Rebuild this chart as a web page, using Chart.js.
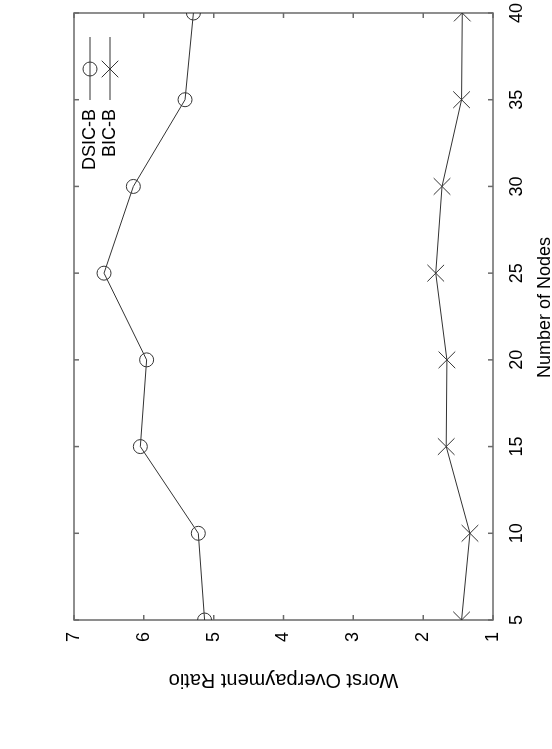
<!DOCTYPE html>
<html>
<head>
<meta charset="utf-8">
<script src="https://cdn.jsdelivr.net/npm/chart.js@4"></script>
<style>
  html, body { margin: 0; padding: 0; overflow: hidden; background: #fff; width: 552px; height: 749px; }
  /* the gnuplot page is drawn landscape, then turned a quarter turn counter-clockwise */
  #wrap { position: absolute; left: 0; top: 0; width: 749px; height: 560px; transform-origin: 0 0; transform: translateY(749px) rotate(-90deg); }
</style>
</head>
<body>
<div id="wrap"><canvas id="chart" width="749" height="560"></canvas></div>
<script>
const nodes = [5, 10, 15, 20, 25, 30, 35, 40]
const dsicB = [5.13, 5.22, 6.05, 5.96, 6.57, 6.15, 5.41, 5.29]
const bicB = [1.45, 1.33, 1.67, 1.66, 1.82, 1.73, 1.45, 1.44]
const xTicks = [5, 10, 15, 20, 25, 30, 35, 40]
const yTicks = [1, 2, 3, 4, 5, 6, 7]

const FAMILY = '"Liberation Sans", Arial, Helvetica, sans-serif'
const FONT = { family: FAMILY, size: 18 }
const INK = '#333'

function toPoints (ys) {
  return nodes.map((n, i) => ({ x: n, y: ys[i] }))
}

// gnuplot style border with inward ticks on all four sides
const borderPlugin = {
  id: 'gnuplotBorder',
  beforeDatasetsDraw (chart) {
    const { ctx, chartArea: a, scales: { x, y } } = chart
    ctx.save()
    ctx.strokeStyle = '#6a6a6a'
    ctx.lineWidth = 1.5
    ctx.strokeRect(a.left, a.top, a.right - a.left, a.bottom - a.top)
    ctx.beginPath()
    xTicks.forEach(v => {
      const px = x.getPixelForValue(v)
      ctx.moveTo(px, a.bottom); ctx.lineTo(px, a.bottom - 5)
      ctx.moveTo(px, a.top); ctx.lineTo(px, a.top + 5)
    })
    yTicks.forEach(v => {
      const py = y.getPixelForValue(v)
      ctx.moveTo(a.left, py); ctx.lineTo(a.left + 5, py)
      ctx.moveTo(a.right, py); ctx.lineTo(a.right - 5, py)
    })
    ctx.stroke()
    ctx.restore()
  },
  afterDraw (chart) {
    const { ctx, chartArea: a } = chart
    const rows = [
      { label: 'DSIC-B', style: 'circle', y: 90 },
      { label: 'BIC-B', style: 'cross', y: 110 }
    ]
    ctx.save()
    ctx.font = `${FONT.size}px ${FONT.family}`
    ctx.fillStyle = '#000'
    // x axis title, gnuplot puts it a little right of the plot centre
    ctx.textAlign = 'center'
    ctx.textBaseline = 'alphabetic'
    ctx.fillText('Number of Nodes', (a.left + a.right) / 2 + 9, 550)

    ctx.textAlign = 'right'
    ctx.textBaseline = 'middle'
    rows.forEach(r => {
      ctx.fillText(r.label, 640, r.y)
      ctx.strokeStyle = INK
      ctx.lineWidth = 1
      ctx.beginPath()
      ctx.moveTo(649, r.y); ctx.lineTo(712, r.y)
      if (r.style === 'circle') {
        ctx.moveTo(680 + 7, r.y)
        ctx.arc(680, r.y, 7, 0, Math.PI * 2)
      } else {
        ctx.moveTo(680 - 8.3, r.y - 8.3); ctx.lineTo(680 + 8.3, r.y + 8.3)
        ctx.moveTo(680 - 8.3, r.y + 8.3); ctx.lineTo(680 + 8.3, r.y - 8.3)
      }
      ctx.stroke()
    })
    ctx.restore()
  }
}

const config = {
  type: 'line',
  data: {
    datasets: [{
      label: 'DSIC-B',
      data: toPoints(dsicB),
      borderColor: INK,
      borderWidth: 1,
      pointStyle: 'circle',
      pointRadius: 7,
      pointBorderColor: INK,
      pointBorderWidth: 1,
      pointBackgroundColor: 'rgba(0, 0, 0, 0)',
      tension: 0
    }, {
      label: 'BIC-B',
      data: toPoints(bicB),
      borderColor: INK,
      borderWidth: 1,
      pointStyle: 'crossRot',
      pointRadius: 11.8,
      pointBorderColor: INK,
      pointBorderWidth: 1,
      tension: 0
    }]
  },
  options: {
    responsive: false,
    animation: false,
    layout: { padding: { left: 0, right: 13, top: 74, bottom: 0 } },
    plugins: {
      legend: { display: false },
      tooltip: { enabled: false }
    },
    scales: {
      x: {
        type: 'linear',
        min: 5,
        max: 40,
        afterFit: s => { s.height = 67; s.paddingLeft = 0; s.paddingRight = 0 },
        afterBuildTicks: s => { s.ticks = xTicks.map(v => ({ value: v })) },
        grid: { display: false, drawTicks: false },
        border: { display: false },
        ticks: { padding: 13, color: '#000', font: FONT, maxRotation: 0, autoSkip: false },
        title: { display: false }
      },
      y: {
        type: 'linear',
        min: 1,
        max: 7,
        afterFit: s => { s.width = 129; s.paddingTop = 0; s.paddingBottom = 0 },
        afterBuildTicks: s => { s.ticks = yTicks.map(v => ({ value: v })) },
        grid: { display: false, drawTicks: false },
        border: { display: false },
        ticks: { padding: 12, color: '#000', font: FONT, autoSkip: false },
        title: { display: true, text: 'Worst Overpayment Ratio', color: '#000', font: { family: FAMILY, size: 20 }, padding: { top: 57, bottom: 0 } }
      }
    }
  },
  plugins: [borderPlugin]
}

window.nodesChart = new Chart(document.getElementById('chart').getContext('2d'), config)
</script>
</body>
</html>
